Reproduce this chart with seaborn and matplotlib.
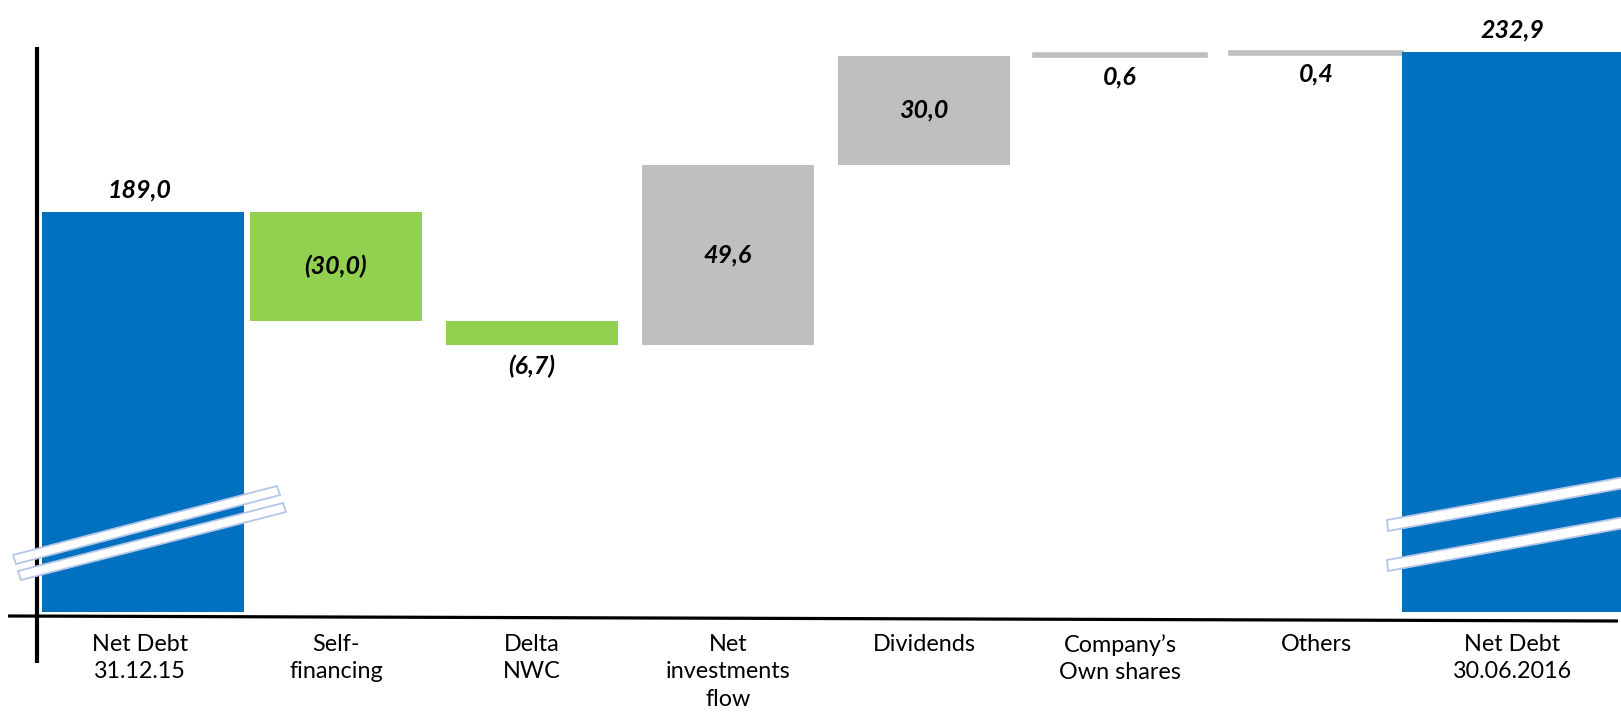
import numpy as np
import pandas as pd
import matplotlib
matplotlib.use("Agg")
import matplotlib.pyplot as plt
from matplotlib.patches import Polygon
from matplotlib.lines import Line2D
import seaborn as sns

# ---------------- data ----------------
categories = ["Net Debt\n31.12.15", "Self-\nfinancing", "Delta\nNWC",
              "Net\ninvestments\nflow", "Dividends", "Company\u2019s\nOwn shares",
              "Others", "Net Debt\n30.06.2016"]
values = [189.0, -30.0, -6.7, 49.6, 30.0, 0.6, 0.4, 232.9]
value_labels = ["189,0", "(30,0)", "(6,7)", "49,6", "30,0", "0,6", "0,4", "232,9"]
kinds = ["total", "delta", "delta", "delta", "delta", "delta", "delta", "total"]

BLUE, GREEN, GREY = "#0070C0", "#92D050", "#BFBFBF"

# broken axis: visible range of the value axis
BREAK_BASE = 79.0
Y_MIN, Y_MAX = 77.7, 247.2

# ---------------- waterfall geometry from the data ----------------
bottoms, heights, colors = [], [], []
running = 0.0
for v, k in zip(values, kinds):
    if k == "total":
        bottoms.append(BREAK_BASE)
        heights.append(v - BREAK_BASE)
        colors.append(BLUE)
        running = v
    else:
        start, end = running, running + v
        bottoms.append(min(start, end))
        heights.append(abs(v))
        colors.append(GREEN if v < 0 else GREY)
        running = end

df = pd.DataFrame({"category": categories, "height": heights})

# ---------------- figure ----------------
sns.set_theme(style="white")
plt.rcParams["font.family"] = ["Lato", "DejaVu Sans"]

W, H = 1621, 716
fig = plt.figure(figsize=(W / 100, H / 100), dpi=100)
ax = fig.add_axes([0, (H - 617) / H, 1, 617 / H])

sns.barplot(data=df, x="category", y="height", bottom=np.array(bottoms),
            width=0.88, errorbar=None, ax=ax, color=GREY, linewidth=0,
            order=categories)

for i, p in enumerate(ax.patches):
    p.set_facecolor(colors[i])
    p.set_edgecolor("none")
    if kinds[i] == "total":
        cx = p.get_x() + p.get_width() / 2
        if i == 0:
            p.set_x(cx - 0.5)
            p.set_width(1.03)
        else:
            p.set_x(cx - 0.56)
            p.set_width(1.12)
    elif abs(values[i]) < 1:
        # very thin bars: give them a visible stroke
        p.set_edgecolor(colors[i])
        p.set_linewidth(2.6)

ax.set_xlim(-0.714, 7.556)
ax.set_ylim(Y_MIN, Y_MAX)
for s in ax.spines.values():
    s.set_visible(False)
ax.set_yticks([])
ax.set_xlabel("")
ax.set_ylabel("")
ax.tick_params(axis="x", length=0, pad=12)
ax.set_xticks(range(len(categories)))
ax.set_xticklabels(categories, fontsize=16.8, color="#000000", linespacing=1.4)

# value labels
lab_font = dict(fontsize=18, fontweight="bold", fontstyle="italic", color="black")
for i, (v, k, lab) in enumerate(zip(values, kinds, value_labels)):
    top = bottoms[i] + heights[i]
    if k == "total":
        ax.annotate(lab, (i, top), xytext=(0, 16), textcoords="offset points",
                    ha="center", va="center", **lab_font)
    elif abs(v) >= 10:
        ax.annotate(lab, (i, bottoms[i] + heights[i] / 2), ha="center",
                    va="center", **lab_font)
    else:
        ax.annotate(lab, (i, bottoms[i]), xytext=(0, -15),
                    textcoords="offset points", ha="center", va="center",
                    **lab_font)


def fx(px):
    return px / W


def fy(py):
    return 1 - py / H


# axis lines
fig.add_artist(Line2D([fx(8), fx(1618)], [fy(616), fy(621)], color="black",
                      lw=2.3, solid_capstyle="butt", zorder=5))
fig.add_artist(Line2D([fx(37), fx(37)], [fy(47), fy(663)], color="black",
                      lw=3.0, solid_capstyle="butt", zorder=5))

# break marks
bands = [
    [(13, 555), (277, 486), (280, 495), (16, 564)],
    [(18, 571), (283, 503), (286, 512), (21, 580)],
    [(1387, 520), (1630, 476), (1630, 487), (1388, 531)],
    [(1387, 560), (1630, 516), (1630, 527), (1388, 571)],
]
for b in bands:
    fig.add_artist(Polygon([(fx(x), fy(y)) for x, y in b], closed=True,
                           facecolor="white", edgecolor="#B4C6E7", lw=1.3,
                           transform=fig.transFigure, zorder=6))

fig.savefig("out.png", dpi=100, facecolor="white")
